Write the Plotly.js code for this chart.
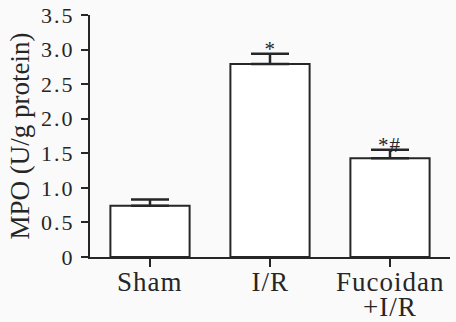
<!DOCTYPE html>
<html>
<head>
<meta charset="utf-8">
<script src="https://cdn.plot.ly/plotly-3.0.1.min.js"></script>
<style>
html,body{margin:0;padding:0;background:#fafafa;}
#chart{width:456px;height:322px;}
#chart g.ytick text{letter-spacing:2px;}
#chart g.annotation text{letter-spacing:1px;}
</style>
</head>
<body>
<div id="chart"></div>
<script>
const categories = ["Sham", "I/R", "Fucoidan+I/R"];
const xLabelLine1 = ["Sham", "I/R", "Fucoidan"];
const xLabelLine2 = ["", "", "+I/R"];
const meanValues = [0.74, 2.79, 1.43];
const errorValues = [0.09, 0.15, 0.12];
const significance = ["", "*", "*#"];
const yTickVals = [0, 0.5, 1.0, 1.5, 2.0, 2.5, 3.0, 3.5];
const yTickText = ["0", "0.5", "1.0", "1.5", "2.0", "2.5", "3.0", "3.5"];

const ink = "#262626";
const serif = "Liberation Serif, Times New Roman, serif";

const trace = {
  type: "bar",
  x: categories,
  y: meanValues,
  width: 0.66,
  marker: { color: "#ffffff", line: { color: ink, width: 2 } },
  error_y: {
    type: "data",
    symmetric: false,
    array: errorValues,
    arrayminus: meanValues.map(() => 0),
    color: ink,
    thickness: 2.5,
    width: 19
  },
  hoverinfo: "none"
};

const sigAnnotations = categories.map((c, i) => ({
  x: c,
  y: meanValues[i] + errorValues[i],
  yref: "y",
  xref: "x",
  text: significance[i],
  showarrow: false,
  yanchor: "bottom",
  yshift: -9,
  font: { family: serif, size: 21, color: ink }
})).filter(a => a.text);

function labelAnnotations(lines, shift) {
  return categories.map((c, i) => ({
    x: c,
    y: 0,
    xref: "x",
    yref: "paper",
    text: lines[i],
    showarrow: false,
    yanchor: "top",
    yshift: shift,
    font: { family: serif, size: 27, color: ink }
  })).filter(a => a.text);
}

const layout = {
  width: 456,
  height: 322,
  margin: { l: 90, r: 6, t: 15, b: 65 },
  paper_bgcolor: "#fafafa",
  plot_bgcolor: "#fafafa",
  showlegend: false,
  font: { family: serif, size: 20, color: ink },
  xaxis: {
    type: "category",
    range: [-0.5, 2.5],
    tickvals: categories,
    showticklabels: false,
    showline: true,
    linecolor: ink,
    linewidth: 2,
    ticks: "outside",
    ticklen: 8,
    tickwidth: 2,
    tickcolor: ink,
    showgrid: false,
    zeroline: false
  },
  yaxis: {
    range: [0, 3.5],
    tickvals: yTickVals,
    ticktext: yTickText,
    showline: true,
    linecolor: ink,
    linewidth: 2,
    ticks: "outside",
    ticklen: 7,
    tickwidth: 2,
    tickcolor: ink,
    ticklabelstandoff: 2,
    showgrid: false,
    zeroline: false,
    tickfont: { family: serif, size: 22, color: ink },
    title: { text: "MPO (U/g protein)", font: { family: serif, size: 27, color: ink }, standoff: 10 }
  },
  annotations: sigAnnotations.concat(labelAnnotations(xLabelLine1, -8), labelAnnotations(xLabelLine2, -33))
};

Plotly.newPlot("chart", [trace], layout, { displayModeBar: false, staticPlot: true });
</script>
</body>
</html>
